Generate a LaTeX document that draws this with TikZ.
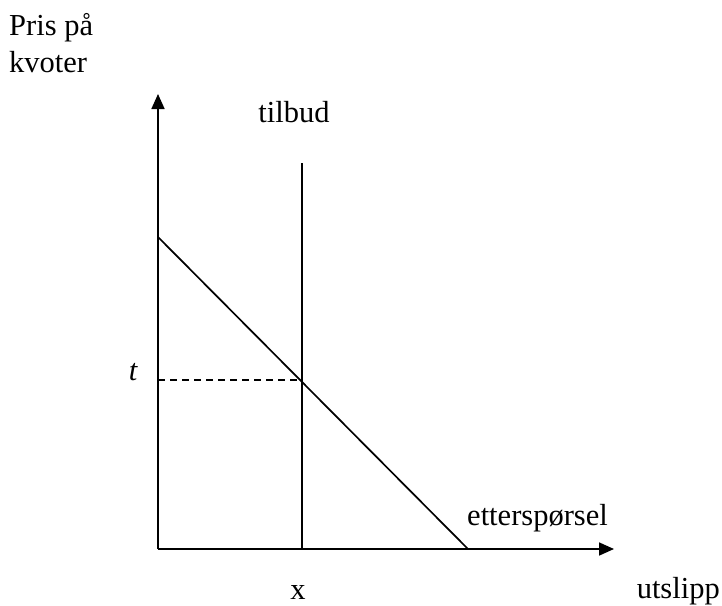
\documentclass[tikz,border=0pt]{standalone}
\usepackage{fontspec}
\setmainfont{Liberation Serif}
\usetikzlibrary{positioning}
\usetikzlibrary{arrows.meta}

\begin{document}
\begin{tikzpicture}[x=1pt, y=-1pt,
    axis/.style={line width=1.7pt, -{Triangle[length=15pt, width=13pt]}},
    curve/.style={line width=1.7pt},
    label/.style={inner sep=0pt, font=\fontsize{30.5}{37}\selectfont}]
    \useasboundingbox (0,0) rectangle (722,605);

    \coordinate (o) at (158,549);
    \coordinate (ytop) at (158,94);
    \coordinate (xend) at (614,549);

    \coordinate (d1) at (158,237);
    \coordinate (d2) at (468,549);

    \coordinate (s1) at (302,163);
    \coordinate (s2) at (302,549);

    \coordinate (eq) at (302,380);
    \coordinate (ty) at (158,380);

    \draw [axis] (o) -- (ytop);
    \draw [axis] (o) -- (xend);
    \draw [curve] (d1) -- (d2);
    \draw [curve] (s1) -- (s2);
    \draw [line width=1.4pt, dash pattern=on 7pt off 5pt] (ty) -- (eq);

    \node [label, anchor=base west] (pris) at (9,35) {Pris på};
    \node [label, anchor=base west] (kvoter) at (9,72) {kvoter};
    \node [label, anchor=base] (tilbud) at (294,122) {tilbud};
    \node [label, anchor=base] (t) at (133,380) {\itshape t};
    \node [label, anchor=base west] (etter) at (467,525) {etterspørsel};
    \node [label, anchor=base] (x) at (298,599) {x};
    \node [label, anchor=base east] (utslipp) at (720,598) {utslipp};
\end{tikzpicture}
\end{document}
